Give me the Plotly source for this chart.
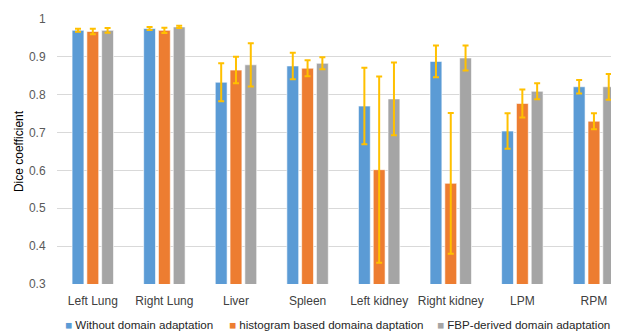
import plotly.graph_objects as go

categories = ["Left Lung", "Right Lung", "Liver", "Spleen", "Left kidney", "Right kidney", "LPM", "RPM"]
series_names = ["Without domain adaptation", "histogram based domaina daptation", "FBP-derived domain adaptation"]
without_da = [0.970, 0.975, 0.833, 0.876, 0.770, 0.888, 0.704, 0.821]
without_da_err = [0.004, 0.004, 0.050, 0.035, 0.101, 0.042, 0.047, 0.018]
histogram_da = [0.967, 0.970, 0.865, 0.870, 0.602, 0.566, 0.777, 0.730]
histogram_da_err = [0.007, 0.007, 0.035, 0.021, 0.246, 0.186, 0.037, 0.021]
fbp_da = [0.970, 0.979, 0.879, 0.883, 0.789, 0.897, 0.809, 0.821]
fbp_da_err = [0.006, 0.003, 0.057, 0.016, 0.096, 0.033, 0.021, 0.034]
y_ticks = [0.3, 0.4, 0.5, 0.6, 0.7, 0.8, 0.9, 1.0]
y_tick_labels = ["0.3", "0.4", "0.5", "0.6", "0.7", "0.8", "0.9", "1"]

colors = ["#5B9BD5", "#ED7D31", "#A5A5A5"]
values = [without_da, histogram_da, fbp_da]
errors = [without_da_err, histogram_da_err, fbp_da_err]

fig = go.Figure()
for name, v, e, c in zip(series_names, values, errors, colors):
    fig.add_trace(go.Bar(
        x=list(range(len(categories))), y=v, name=name,
        marker=dict(color=c, line=dict(color="rgba(255,255,255,0.6)", width=1)),
        error_y=dict(type="data", array=e, visible=True, color="#FFC000", thickness=2, width=3),
    ))

# page body has an 8px margin; figure is sized/positioned to compensate
OFF = 8
FW, FH = 619 - OFF, 331 - OFF
L, T, H = 57 - OFF, 19 - OFF, 265
W = FW - L

legend_x_px = [63, 227, 435]
for name, c, xp in zip(series_names, colors, legend_x_px):
    fig.add_annotation(
        xref="paper", yref="paper", x=(xp - OFF - L) / W, y=(T + H - (324 - OFF)) / H,
        xanchor="left", yanchor="middle", showarrow=False,
        text=f'<span style="color:{c}">■</span> {name}',
        font=dict(size=11.6, color="#262626"),
    )

fig.update_layout(
    width=FW, height=FH,
    margin=dict(l=L, r=0, t=T, b=FH - T - H, autoexpand=False),
    barmode="group", bargap=0.38, bargroupgap=0.2,
    plot_bgcolor="white", paper_bgcolor="white",
    font=dict(family="Liberation Sans, Arial, sans-serif", size=12, color="#595959"),
    showlegend=False,
    xaxis=dict(tickmode="array", tickvals=list(range(len(categories))), ticktext=categories,
               range=[-0.5, 7.35], showgrid=False, zeroline=False, showline=False,
               ticks="outside", ticklen=6, tickcolor="rgba(0,0,0,0)", automargin=False,
               tickfont=dict(color="#404040")),
    yaxis=dict(range=[0.3, 1.0], tickmode="array", tickvals=y_ticks, ticktext=y_tick_labels,
               showgrid=True, gridcolor="#D9D9D9", gridwidth=1, zeroline=False, showline=False,
               ticks="outside", ticklen=8, tickcolor="rgba(0,0,0,0)", automargin=False,
               title=dict(text="Dice coefficient", font=dict(size=12, color="#000000"), standoff=2)),
)

fig.write_html("out.html")
